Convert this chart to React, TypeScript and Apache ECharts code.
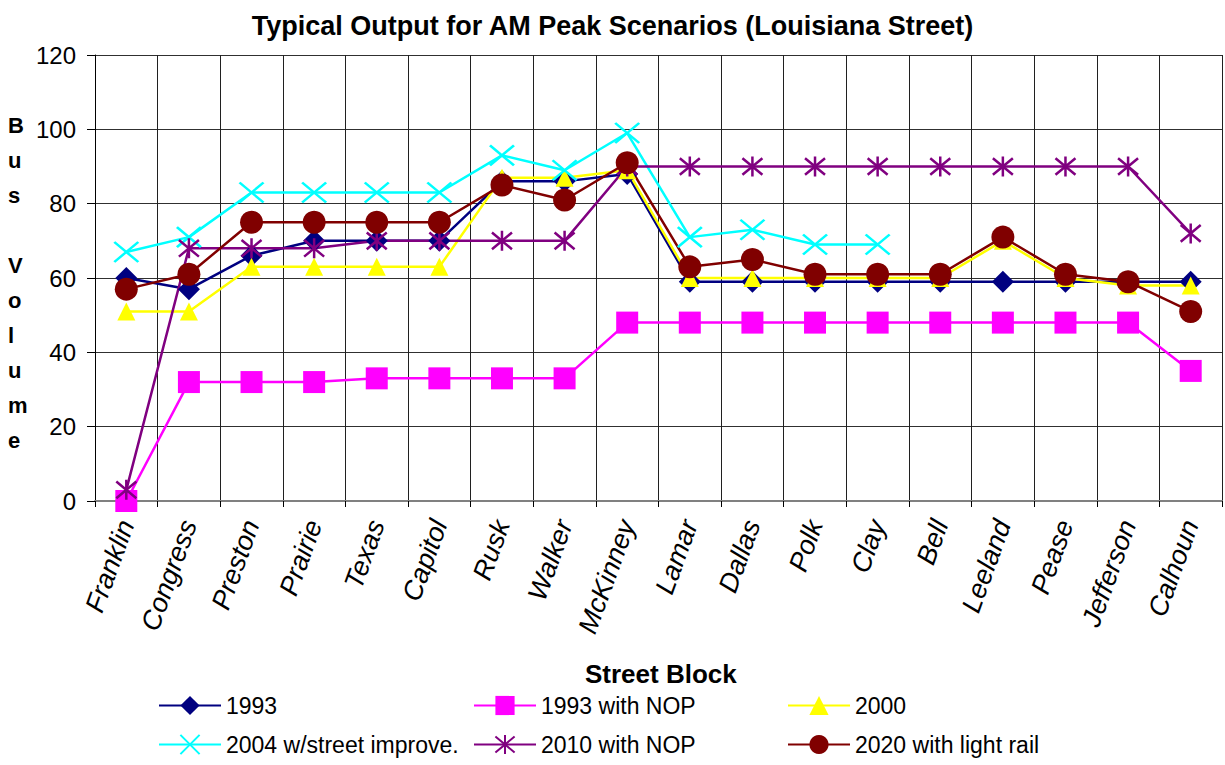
import React, { useEffect, useRef } from "react";
import * as echarts from "echarts";

const categories = [
  "Franklin", "Congress", "Preston", "Prairie", "Texas", "Capitol", "Rusk", "Walker", "McKinney",
  "Lamar", "Dallas", "Polk", "Clay", "Bell", "Leeland", "Pease", "Jefferson", "Calhoun",
];

const s1993 = [60, 57, 66, 70, 70, 70, 86, 86, 88, 59, 59, 59, 59, 59, 59, 59, 59, 59];
const s1993NOP = [0, 32, 32, 32, 33, 33, 33, 33, 48, 48, 48, 48, 48, 48, 48, 48, 48, 35];
const s2000 = [51, 51, 63, 63, 63, 63, 87, 87, 89, 60, 60, 60, 60, 60, 70, 60, 58, 58];
const s2004 = [67, 71, 83, 83, 83, 83, 93, 89, 99, 71, 73, 69, 69, null, null, null, null, null];
const s2010NOP = [3, 68, 68, 68, 70, 70, 70, 70, 90, 90, 90, 90, 90, 90, 90, 90, 90, 72];
const s2020 = [57, 61, 75, 75, 75, 75, 85, 81, 91, 63, 65, 61, 61, 61, 71, 61, 59, 51];

const seriesNames = ["1993", "1993 with NOP", "2000", "2004 w/street improve.", "2010 with NOP", "2020 with light rail"];

const FONT = "Liberation Sans, Arial, sans-serif";

export default function App() {
  const ref = useRef<HTMLDivElement>(null);
  useEffect(() => {
    if (!ref.current) return;
    const chart = echarts.init(ref.current, null, { renderer: "svg" });
    const xPath = "path://M0,0L10,10M10,0L0,10";
    const starPath = "path://M0,0L10,10M10,0L0,10M5,-1L5,11";
    const mk = (name: string, data: (number | null)[], color: string, symbol: string, size: any, stroke = false) => ({
      name,
      type: "line",
      data,
      symbol,
      symbolSize: size,
      showAllSymbol: true,
      connectNulls: false,
      lineStyle: { color, width: 2.5 },
      itemStyle: stroke
        ? { color: "rgba(0,0,0,0)", borderColor: color, borderWidth: 2.5 }
        : { color, borderColor: color, borderWidth: 0 },
      emphasis: { disabled: true },
    });
    const legendPos = [
      [158, 694], [473, 694], [787, 694],
      [158, 733], [473, 733], [787, 733],
    ];
    const legends = seriesNames.map((name, i) => ({
      data: [name],
      orient: "horizontal",
      left: legendPos[i][0],
      top: legendPos[i][1],
      padding: 0,
      itemWidth: 62,
      itemHeight: 24,
      textStyle: { fontFamily: FONT, fontSize: 23, color: "#000" },
    }));
    chart.setOption({
      animation: false,
      title: {
        text: "Typical Output for AM Peak Scenarios (Louisiana Street)",
        left: "center",
        top: 7,
        textStyle: { fontFamily: FONT, fontSize: 27, fontWeight: "bold", color: "#000" },
      },
      grid: { left: 95, right: 3, top: 55, bottom: 264, containLabel: false },
      xAxis: {
        type: "category",
        data: categories,
        boundaryGap: true,
        axisLine: { show: true, lineStyle: { color: "#808080", width: 2 } },
        axisTick: { show: true, interval: 0, length: 6, lineStyle: { color: "#000" } },
        splitLine: { show: true, interval: 0, lineStyle: { color: "#202020", width: 1 } },
        axisLabel: {
          interval: 0,
          rotate: 70,
          margin: 20,
          fontFamily: FONT,
          fontSize: 27,
          fontStyle: "italic",
          color: "#000",
        },
      },
      yAxis: {
        type: "value",
        min: 0,
        max: 120,
        interval: 20,
        axisLine: { show: true, lineStyle: { color: "#000", width: 1 } },
        axisTick: { show: true, length: 8, lineStyle: { color: "#000" } },
        splitLine: { show: true, lineStyle: { color: "#303030", width: 1 } },
        axisLabel: { fontFamily: FONT, fontSize: 24, color: "#000", margin: 19 },
      },
      legend: legends,
      graphic: [
        {
          type: "text",
          left: 8,
          top: 108,
          style: {
            text: "B\nu\ns\n\nV\no\nl\nu\nm\ne",
            fontFamily: FONT,
            fontSize: 22,
            fontWeight: "bold",
            lineHeight: 35,
            align: "center",
            fill: "#000",
          },
        },
        {
          type: "text",
          left: 585,
          top: 661,
          style: {
            text: "Street Block",
            fontFamily: FONT,
            fontSize: 26,
            fontWeight: "bold",
            fill: "#000",
          },
        },
      ],
      series: [
        mk(seriesNames[0], s1993, "#000080", "diamond", 22),
        mk(seriesNames[1], s1993NOP, "#FF00FF", "rect", 22),
        mk(seriesNames[2], s2000, "#FFFF00", "triangle", 18),
        mk(seriesNames[3], s2004, "#00FFFF", xPath, [24, 20], true),
        mk(seriesNames[4], s2010NOP, "#800080", starPath, 20, true),
        mk(seriesNames[5], s2020, "#800000", "circle", 23),
      ],
    });
    return () => chart.dispose();
  }, []);
  return (
    <div
      ref={ref}
      style={{ position: "fixed", left: 0, top: 0, width: 1225, height: 765, background: "#fff" }}
    />
  );
}
